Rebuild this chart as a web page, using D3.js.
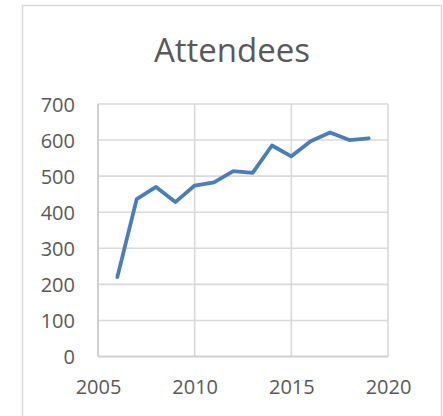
<!DOCTYPE html>
<html><head><meta charset="utf-8">
<script src="https://cdn.jsdelivr.net/npm/d3@7"></script>
<style>body{margin:0;background:#fff}svg{display:block}text{font-family:"Open Sans",sans-serif;fill:#595959}</style>
</head><body>
<svg id="c" width="443" height="416"></svg>
<script>
const years = [2006,2007,2008,2009,2010,2011,2012,2013,2014,2015,2016,2017,2018,2019];
const attendees = [220,436,470,428,474,483,514,509,585,555,597,621,600,605];
const xTicks = [2005,2010,2015,2020];
const yTicks = [0,100,200,300,400,500,600,700];
const title = "Attendees";

const svg = d3.select("#c");
svg.append("rect").attr("x",22.5).attr("y",5.5).attr("width",419).attr("height",420)
  .attr("fill","#fff").attr("stroke","#d9d9d9").attr("stroke-width",1.5);

const x = d3.scaleLinear().domain([2005,2020]).range([98,388]);
const y = d3.scaleLinear().domain([0,700]).range([356.5,104]);

const g = svg.append("g");
g.selectAll(".hg").data(yTicks.filter(d=>d>0)).join("line")
  .attr("x1",x(2005)).attr("x2",x(2020)).attr("y1",d=>y(d)).attr("y2",d=>y(d))
  .attr("stroke","#d9d9d9").attr("stroke-width",1.6);
g.selectAll(".vg").data(xTicks.filter(d=>d>2005)).join("line")
  .attr("y1",y(0)).attr("y2",y(700)).attr("x1",d=>x(d)).attr("x2",d=>x(d))
  .attr("stroke","#d9d9d9").attr("stroke-width",1.6);
g.append("line").attr("x1",x(2005)).attr("x2",x(2020)).attr("y1",y(0)).attr("y2",y(0))
  .attr("stroke","#d0d0d0").attr("stroke-width",2);
g.append("line").attr("x1",x(2005)).attr("x2",x(2005)).attr("y1",y(0)).attr("y2",y(700))
  .attr("stroke","#d0d0d0").attr("stroke-width",2);

const yAxis = d3.axisLeft(y).tickValues(yTicks).tickSize(0).tickPadding(0);
const ya = svg.append("g").attr("transform","translate(75,0)").call(yAxis);
ya.select(".domain").remove();
ya.selectAll("text").style("font-size","20px").attr("fill","#595959").attr("dy","0.35em");

const xAxis = d3.axisBottom(x).tickValues(xTicks).tickSize(0).tickPadding(0).tickFormat(d3.format("d"));
const xa = svg.append("g").attr("transform","translate(0,380)").call(xAxis);
xa.select(".domain").remove();
xa.selectAll("text").style("font-size","20px").attr("fill","#595959").attr("dy","0.72em");

const line = d3.line().x((d,i)=>x(years[i])).y(d=>y(d));
svg.append("path").datum(attendees).attr("d",line).attr("fill","none")
  .attr("stroke","#4a7ebb").attr("stroke-width",3.8).attr("stroke-linejoin","round").attr("stroke-linecap","round");

svg.append("text").attr("x",232).attr("y",61.5).attr("text-anchor","middle")
  .style("font-size","33px").text(title);
</script>
</body></html>
